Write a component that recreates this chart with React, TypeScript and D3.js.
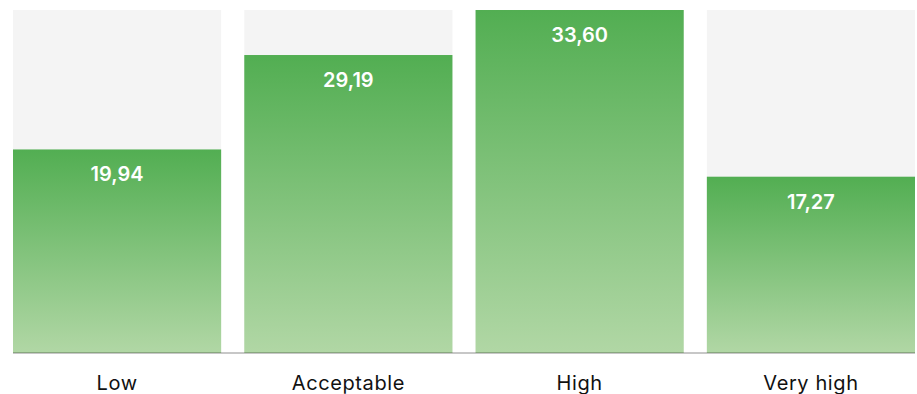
import React from "react";
import * as d3 from "d3";

const categories = ["Low", "Acceptable", "High", "Very high"];
const values = [19.94, 29.19, 33.6, 17.27];
const valueLabels = ["19,94", "29,19", "33,60", "17,27"];

const W = 917;
const H = 394;
const left = 13;
const right = 915;
const top = 10;
const baseline = 353;

export default function App() {
  const x = d3.scaleBand<string>().domain(categories).range([left, right]).paddingInner(0.1).paddingOuter(0);
  const y = d3.scaleLinear().domain([0, d3.max(values) as number]).range([baseline, top]);
  return (
    <svg width={W} height={H} style={{ position: "absolute", left: 0, top: 0 }} fontFamily="Inter, 'Noto Sans', sans-serif">
      <defs>
        <linearGradient id="g" x1="0" y1="0" x2="0" y2="1">
          <stop offset="0" stopColor="#52ae52" />
          <stop offset="1" stopColor="#b1d7a5" />
        </linearGradient>
      </defs>
      {categories.map((c, i) => {
        const bx = x(c) as number;
        const bw = x.bandwidth();
        const yt = y(values[i]);
        return (
          <g key={c}>
            <rect x={bx} y={top} width={bw} height={baseline - top} fill="#f4f4f4" />
            <rect x={bx} y={yt} width={bw} height={baseline - yt} fill="url(#g)" />
            <text x={bx + bw / 2} y={yt + 32} textAnchor="middle" fill="#fff" fontSize={20} fontWeight={600}>
              {valueLabels[i]}
            </text>
            <text x={bx + bw / 2} y={390} textAnchor="middle" fill="#111" fontSize={20} letterSpacing={0.6}>
              {c}
            </text>
          </g>
        );
      })}
      <rect x={left} y={baseline - 1} width={right - left} height={2} fill="rgba(0,0,0,0.22)" />
    </svg>
  );
}
